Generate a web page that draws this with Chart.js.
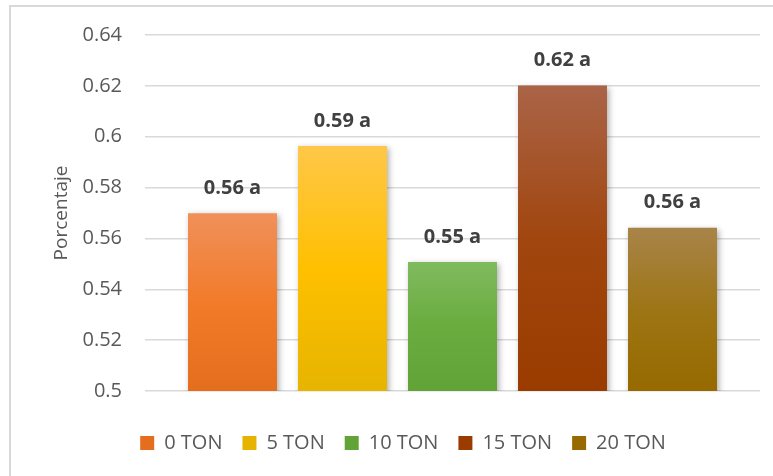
<!DOCTYPE html>
<html>
<head>
<meta charset="utf-8">
<script src="https://cdn.jsdelivr.net/npm/chart.js@4/dist/chart.umd.min.js"></script>
<style>
  html, body { margin: 0; padding: 0; background: #ffffff; }
  #wrap { width: 773px; height: 476px; position: relative; }
</style>
</head>
<body>
<div id="wrap"><canvas id="chart" width="773" height="476"></canvas></div>
<script>
// Treatments (series) and their mean percentages
const treatments = ['0 TON', '5 TON', '10 TON', '15 TON', '20 TON'];
const means = [0.5699, 0.5963, 0.5507, 0.6201, 0.5642];
const groupLetters = ['a', 'a', 'a', 'a', 'a'];
const yTicks = [0.5, 0.52, 0.54, 0.56, 0.58, 0.6, 0.62, 0.64];

// Gradient stops per series: light top, base, darker bottom
const barTop = ['#F0905A', '#FFC748', '#80BA5F', '#AA6447', '#A8844A'];
const barMid = ['#F27B2A', '#FFC000', '#6AAC3E', '#A1460F', '#9E7515'];
const barBot = ['#E56E1E', '#E6B400', '#62A338', '#9A3C00', '#966A00'];

const FONT = "'Open Sans', 'Noto Sans', sans-serif";
Chart.defaults.font.family = FONT;

// Mean label text: two decimals (truncated) plus the grouping letter
function meanText(v, i) {
  const t = Math.floor(v * 100 + 1e-9) / 100;
  return t.toFixed(2) + ' ' + groupLetters[i];
}

function gradientFor(i) {
  return function (ctx) {
    const chart = ctx.chart;
    const area = chart.chartArea;
    if (!area) return barMid[i];
    const yTop = chart.scales.y.getPixelForValue(means[i]);
    const g = chart.ctx.createLinearGradient(0, yTop, 0, area.bottom);
    g.addColorStop(0, barTop[i]);
    g.addColorStop(0.5, barMid[i]);
    g.addColorStop(1, barBot[i]);
    return g;
  };
}

// Light frame around the plot
const framePlugin = {
  id: 'frame',
  beforeDraw(chart) {
    const c = chart.ctx;
    c.save();
    c.strokeStyle = '#D9D9D9';
    c.lineWidth = 2;
    c.beginPath();
    c.moveTo(10, chart.height);
    c.lineTo(10, 6);
    c.lineTo(chart.width, 6);
    c.stroke();
    c.restore();
  }
};

// Soft shadow behind the bars
const barShadow = {
  id: 'barShadow',
  beforeDatasetsDraw(chart) {
    const c = chart.ctx;
    c.save();
    c.shadowColor = 'rgba(0,0,0,0.32)';
    c.shadowBlur = 6;
    c.shadowOffsetX = 2;
    c.shadowOffsetY = 2;
  },
  afterDatasetsDraw(chart) {
    chart.ctx.restore();
  }
};

// Mean labels above each bar
const meanLabels = {
  id: 'meanLabels',
  afterDatasetsDraw(chart) {
    const c = chart.ctx;
    c.save();
    c.font = 'bold 20px ' + FONT;
    c.fillStyle = '#404040';
    c.textAlign = 'center';
    c.textBaseline = 'middle';
    chart.data.datasets.forEach((ds, i) => {
      const bar = chart.getDatasetMeta(i).data[0];
      if (!bar) return;
      c.fillText(meanText(ds.data[0], i), bar.x, bar.y - 25);
    });
    c.restore();
  }
};

const datasets = treatments.map((name, i) => ({
  label: name,
  data: [means[i]],
  backgroundColor: gradientFor(i),
  borderWidth: 0,
  categoryPercentage: 0.8943,
  barPercentage: 0.809
}));

new Chart(document.getElementById('chart'), {
  type: 'bar',
  data: { labels: [''], datasets },
  plugins: [framePlugin, barShadow, meanLabels],
  options: {
    responsive: false,
    animation: false,
    layout: { padding: { left: 46, right: 13, top: 35, bottom: 13 } },
    scales: {
      x: {
        grid: { display: false },
        border: { display: false },
        ticks: { display: false },
        afterFit(s) { s.height = 22; }
      },
      y: {
        min: 0.5,
        max: 0.64,
        afterFit(s) { s.width = 99; },
        afterBuildTicks(s) { s.ticks = yTicks.map(v => ({ value: v })); },
        border: { display: false },
        grid: { color: '#D9D9D9', lineWidth: 1.5, drawTicks: false },
        ticks: {
          padding: 23,
          color: '#595959',
          font: { size: 20 },
          callback: v => String(parseFloat(Number(v).toFixed(2)))
        },
        title: {
          display: true,
          text: 'Porcentaje',
          color: '#595959',
          font: { size: 19 },
          padding: { top: 4, bottom: 4 }
        }
      }
    },
    plugins: {
      legend: {
        position: 'bottom',
        labels: {
          color: '#595959',
          font: { size: 20 },
          boxWidth: 14,
          boxHeight: 14,
          padding: 20
        }
      },
      tooltip: { enabled: false }
    }
  }
});
</script>
</body>
</html>
